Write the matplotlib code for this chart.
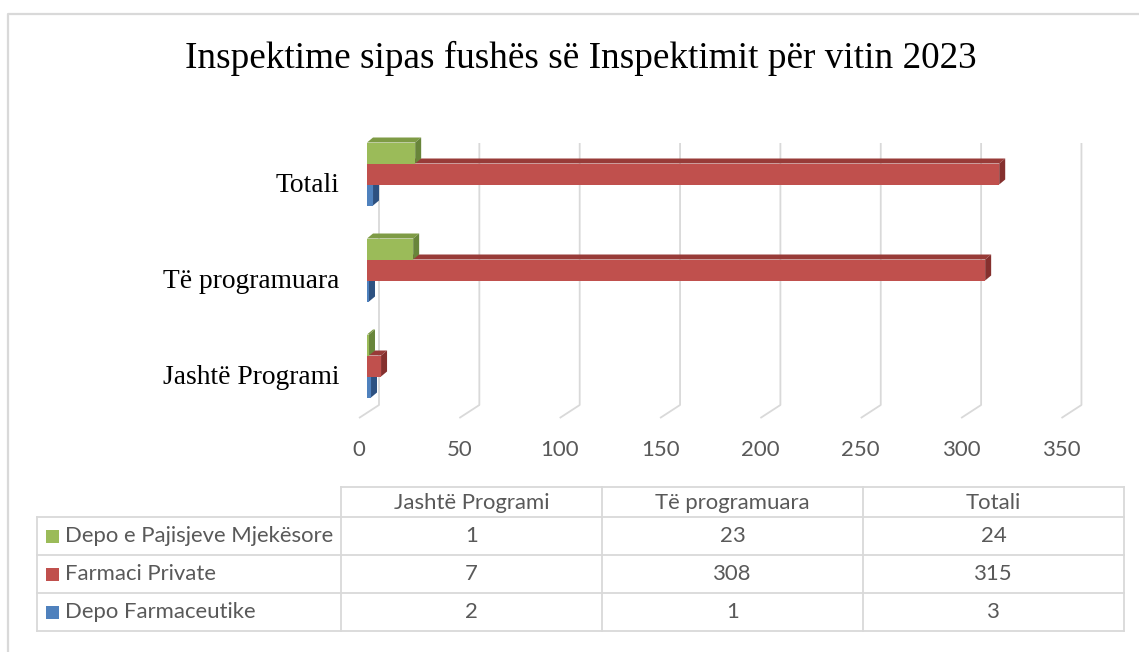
import matplotlib.pyplot as plt
from matplotlib.patches import Rectangle, Polygon

# --- data ---
categories = ['Jashtë Programi', 'Të programuara', 'Totali']
series_names = ['Depo e Pajisjeve Mjekësore', 'Farmaci Private', 'Depo Farmaceutike']
series_values = {
    'Depo e Pajisjeve Mjekësore': [1, 23, 24],
    'Farmaci Private': [7, 308, 315],
    'Depo Farmaceutike': [2, 1, 3],
}
x_ticks = [0, 50, 100, 150, 200, 250, 300, 350]
title = 'Inspektime sipas fushës së Inspektimit për vitin 2023'

# front / top / side colours per series
front = {'Depo e Pajisjeve Mjekësore': '#9BBB59', 'Farmaci Private': '#C0504D', 'Depo Farmaceutike': '#4F81BD'}
top = {'Depo e Pajisjeve Mjekësore': '#7E9B45', 'Farmaci Private': '#983B38', 'Depo Farmaceutike': '#3D6797'}
side = {'Depo e Pajisjeve Mjekësore': '#68853A', 'Farmaci Private': '#85302E', 'Depo Farmaceutike': '#2D5181'}
grid_c = '#D9D9D9'
text_c = '#595959'
sans = ['Lato', 'DejaVu Sans']
serif = ['Liberation Serif', 'DejaVu Serif']

W, H = 1139, 652
fig = plt.figure(figsize=(W / 100, H / 100), dpi=100)

# background axes in pixel coordinates (border, table)
bg = fig.add_axes([0, 0, 1, 1])
bg.set_xlim(0, W)
bg.set_ylim(H, 0)
bg.axis('off')
bg.plot([8, 8, W], [H, 14, 14], color=grid_c, lw=1.6)

fig.text(581 / W, 1 - 58 / H, title, ha='center', va='center', fontsize=26.8, family=serif, color='black')

# --- main plot area (front of floor: x=359..1061 px, y=143..418 px) ---
px_per_unit = 2.007
yu = 96.0  # pixels per category step
y_bottom = -52 / yu
y_top = y_bottom + (418 - 143) / yu
ax = fig.add_axes([359 / W, 1 - 418 / H, 350 * px_per_unit / W, (418 - 143) / H])
ax.set_xlim(0, 350)
ax.set_ylim(y_bottom, y_top)
for s in ax.spines.values():
    s.set_visible(False)
ax.patch.set_alpha(0)

# floor depth and bar geometry (pixel offsets converted to data units)
fdx, fdy = 20 / px_per_unit, 13 / yu
ox = 8 / px_per_unit
bdx, bdy = 6 / px_per_unit, 5 / yu
bh = 21 / yu

for v in x_ticks:
    ax.plot([v, v + fdx, v + fdx], [y_bottom, y_bottom + fdy, y_top], color=grid_c, lw=1.3,
            clip_on=False, zorder=1, solid_capstyle='butt')

offsets = {'Depo e Pajisjeve Mjekësore': bh, 'Farmaci Private': 0.0, 'Depo Farmaceutike': -bh}
for ci, cat in enumerate(categories):
    for name in ['Depo Farmaceutike', 'Farmaci Private', 'Depo e Pajisjeve Mjekësore']:
        v = series_values[name][ci]
        yb = ci + offsets[name] - bh / 2
        yt = yb + bh
        z = 3 + ci * 0.1
        ax.add_patch(Polygon([(ox, yt), (ox + v, yt), (ox + v + bdx, yt + bdy), (ox + bdx, yt + bdy)],
                             closed=True, fc=top[name], ec='none', zorder=z, clip_on=False))
        ax.add_patch(Polygon([(ox + v, yb), (ox + v + bdx, yb + bdy), (ox + v + bdx, yt + bdy), (ox + v, yt)],
                             closed=True, fc=side[name], ec='none', zorder=z, clip_on=False))
        ax.add_patch(Rectangle((ox, yb), v, bh, fc=front[name], ec='none', zorder=z + 0.01, clip_on=False))

ax.set_xticks(x_ticks)
ax.set_xticklabels([str(t) for t in x_ticks], fontsize=16, family=sans, color=text_c)
ax.tick_params(axis='x', length=0, pad=16)
ax.set_yticks([i - 8 / yu for i in range(len(categories))])
ax.set_yticklabels(categories, fontsize=19.8, family=serif, color='black')
ax.tick_params(axis='y', length=0, pad=14)

# --- data table below the chart (pixel layout) ---
col_x = [37, 341, 602, 863, 1124]
head_y = [487, 517]
row_y = [517, 555, 593, 631]
lw = 1.3
fs = 15.9
bg.plot([col_x[1], col_x[-1]], [head_y[0], head_y[0]], color=grid_c, lw=lw)
for y in row_y:
    bg.plot([col_x[0], col_x[-1]], [y, y], color=grid_c, lw=lw)
bg.plot([col_x[0], col_x[0]], [row_y[0], row_y[-1]], color=grid_c, lw=lw)
for x in col_x[1:]:
    bg.plot([x, x], [head_y[0], row_y[-1]], color=grid_c, lw=lw)

for j, cat in enumerate(categories):
    bg.text((col_x[j + 1] + col_x[j + 2]) / 2, (head_y[0] + head_y[1]) / 2 + 1, cat,
            ha='center', va='center', fontsize=fs, family=sans, color=text_c)
for i, name in enumerate(series_names):
    yc = (row_y[i] + row_y[i + 1]) / 2
    bg.add_patch(Rectangle((46, yc - 6.5), 13, 13, fc=front[name], ec='none'))
    bg.text(65, yc, name, ha='left', va='center', fontsize=fs, family=sans, color=text_c)
    for j in range(len(categories)):
        bg.text((col_x[j + 1] + col_x[j + 2]) / 2, yc, str(series_values[name][j]),
                ha='center', va='center', fontsize=fs, family=sans, color=text_c)

fig.savefig('out.png', dpi=100)
